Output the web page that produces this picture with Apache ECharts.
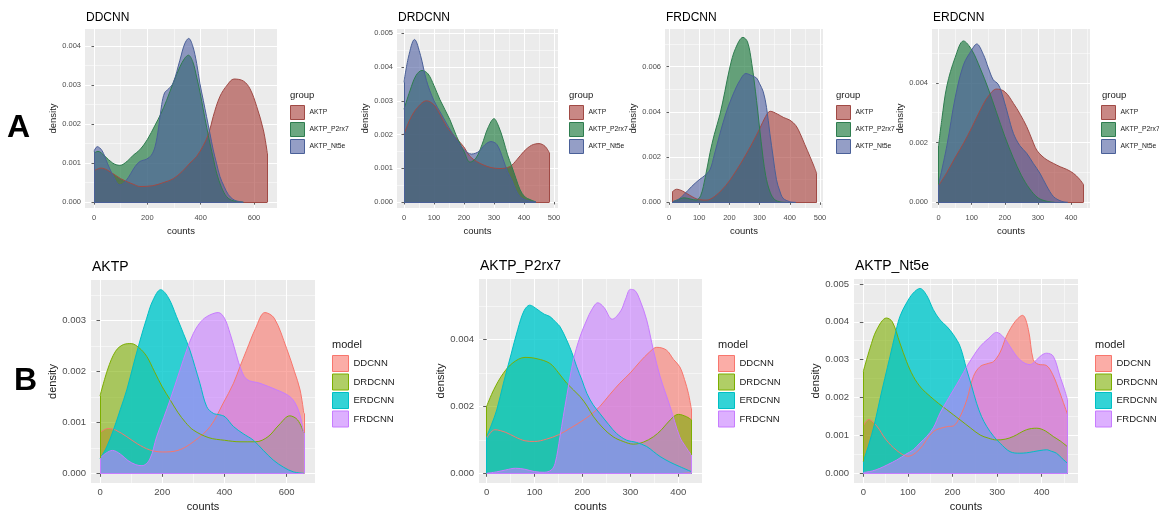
<!DOCTYPE html>
<html><head><meta charset="utf-8">
<script src="https://cdn.jsdelivr.net/npm/echarts@6.0.0/dist/echarts.min.js"></script>
<style>html,body{margin:0;padding:0;background:#fff}#c{width:1159px;height:513px}</style>
</head><body><div id="c"></div>
<script>
// ---------- DATA: [counts, density] ----------
// Row A, panel DDCNN
const DDCNN_AKTP = [[0,0.00080],[25,0.00087],[50,0.00082],[100,0.00060],[150,0.00045],[172,0.00040],[220,0.00042],[260,0.00050],[297,0.00060],[330,0.00078],[360,0.00100],[385,0.00117],[410,0.00145],[430,0.00175],[447,0.00219],[472,0.00270],[500,0.00300],[525,0.00315],[560,0.00310],[585,0.00290],[610,0.00245],[635,0.00185],[650,0.00125]];
const DDCNN_P2rx7 = [[0,0.00125],[15,0.00130],[40,0.00118],[70,0.00100],[97,0.00094],[125,0.00105],[147,0.00120],[172,0.00134],[200,0.00160],[229,0.00197],[250,0.00225],[272,0.00260],[297,0.00305],[322,0.00346],[340,0.00368],[354,0.00376],[370,0.00360],[385,0.00320],[398,0.00280],[410,0.00236],[423,0.00190],[435,0.00150],[448,0.00110],[460,0.00074],[478,0.00038],[497,0.00014],[515,0.00005],[535,0.00002],[560,0.00000]];
const DDCNN_Nt5e = [[0,0.00130],[12,0.00142],[30,0.00132],[50,0.00100],[70,0.00070],[97,0.00044],[120,0.00055],[154,0.00091],[172,0.00104],[197,0.00110],[215,0.00120],[229,0.00142],[242,0.00190],[254,0.00250],[265,0.00280],[280,0.00290],[297,0.00305],[322,0.00363],[340,0.00405],[355,0.00419],[370,0.00400],[385,0.00355],[397,0.00304],[410,0.00260],[422,0.00219],[435,0.00175],[447,0.00134],[460,0.00098],[472,0.00066],[488,0.00040],[504,0.00019],[520,0.00008],[535,0.00003],[560,0.00000]];
// Row A, panel DRDCNN
const DRDCNN_AKTP = [[0,0.00200],[20,0.00245],[45,0.00280],[75,0.00300],[100,0.00288],[120,0.00260],[142,0.00224],[170,0.00193],[198,0.00165],[220,0.00135],[242,0.00120],[264,0.00110],[290,0.00102],[320,0.00099],[353,0.00105],[376,0.00125],[400,0.00150],[425,0.00168],[450,0.00173],[470,0.00165],[485,0.00145]];
const DRDCNN_P2rx7 = [[0,0.00275],[20,0.00330],[40,0.00375],[60,0.00390],[80,0.00380],[100,0.00345],[120,0.00303],[153,0.00244],[175,0.00195],[200,0.00150],[220,0.00118],[240,0.00130],[260,0.00170],[280,0.00220],[300,0.00247],[315,0.00225],[331,0.00184],[345,0.00140],[359,0.00106],[373,0.00070],[387,0.00036],[403,0.00015],[420,0.00007],[440,0.00000]];
const DRDCNN_Nt5e = [[0,0.00355],[15,0.00430],[35,0.00482],[55,0.00435],[75,0.00360],[100,0.00300],[125,0.00260],[150,0.00220],[175,0.00185],[200,0.00155],[225,0.00142],[250,0.00150],[270,0.00170],[290,0.00179],[310,0.00170],[331,0.00125],[345,0.00090],[359,0.00066],[373,0.00035],[390,0.00013],[420,0.00002],[440,0.00000]];
// Row A, panel FRDCNN
const FRDCNN_AKTP = [[10,0.00045],[25,0.00058],[45,0.00050],[70,0.00030],[100,0.00012],[125,0.00010],[150,0.00025],[175,0.00055],[200,0.00095],[225,0.00145],[250,0.00200],[275,0.00260],[300,0.00325],[320,0.00380],[335,0.00403],[360,0.00390],[380,0.00375],[400,0.00364],[420,0.00340],[434,0.00305],[450,0.00255],[467,0.00202],[480,0.00160],[489,0.00128]];
const FRDCNN_P2rx7 = [[10,0.00002],[30,0.00012],[50,0.00020],[70,0.00015],[90,0.00010],[105,0.00030],[120,0.00110],[136,0.00220],[150,0.00300],[169,0.00390],[185,0.00490],[202,0.00600],[220,0.00680],[245,0.00730],[260,0.00710],[274,0.00615],[290,0.00450],[305,0.00270],[320,0.00120],[335,0.00045],[350,0.00012],[370,0.00002],[390,0.00000]];
const FRDCNN_Nt5e = [[10,0.00002],[30,0.00012],[50,0.00035],[75,0.00070],[100,0.00100],[120,0.00120],[136,0.00145],[150,0.00210],[169,0.00305],[190,0.00400],[213,0.00480],[235,0.00540],[255,0.00570],[275,0.00560],[290,0.00550],[300,0.00525],[312,0.00490],[323,0.00420],[334,0.00305],[345,0.00200],[356,0.00100],[367,0.00050],[378,0.00018],[400,0.00003],[420,0.00000]];
// Row A, panel ERDCNN
const ERDCNN_AKTP = [[0,0.00056],[25,0.00100],[50,0.00150],[75,0.00197],[100,0.00250],[126,0.00309],[150,0.00355],[175,0.00379],[200,0.00370],[226,0.00331],[246,0.00295],[266,0.00253],[282,0.00210],[296,0.00175],[312,0.00155],[327,0.00142],[347,0.00130],[367,0.00119],[387,0.00110],[407,0.00097],[425,0.00078],[437,0.00060]];
const ERDCNN_P2rx7 = [[0,0.00190],[10,0.00280],[25,0.00390],[50,0.00485],[75,0.00540],[100,0.00510],[125,0.00450],[150,0.00380],[175,0.00300],[200,0.00220],[225,0.00150],[250,0.00090],[275,0.00045],[300,0.00015],[325,0.00004],[350,0.00000]];
const ERDCNN_Nt5e = [[0,0.00060],[25,0.00190],[50,0.00350],[75,0.00460],[100,0.00510],[115,0.00530],[135,0.00495],[150,0.00450],[165,0.00410],[180,0.00395],[195,0.00350],[210,0.00290],[226,0.00230],[245,0.00190],[266,0.00164],[286,0.00130],[306,0.00097],[326,0.00055],[347,0.00019],[370,0.00004],[390,0.00000]];
// Row B, panel AKTP
const AKTP_DDCNN = [[0,0.00080],[25,0.00088],[50,0.00085],[86,0.00072],[120,0.00058],[160,0.00046],[200,0.00042],[250,0.00045],[300,0.00062],[354,0.00092],[396,0.00138],[429,0.00177],[450,0.00210],[471,0.00242],[500,0.00285],[530,0.00316],[560,0.00305],[600,0.00245],[625,0.00200],[643,0.00164],[655,0.00118]];
const AKTP_DRDCNN = [[0,0.00152],[25,0.00205],[50,0.00240],[75,0.00253],[100,0.00255],[125,0.00247],[150,0.00230],[175,0.00200],[200,0.00170],[225,0.00145],[250,0.00120],[275,0.00100],[300,0.00085],[350,0.00070],[400,0.00065],[450,0.00062],[500,0.00062],[540,0.00072],[575,0.00095],[610,0.00113],[635,0.00105],[655,0.00080]];
const AKTP_ERDCNN = [[0,0.00029],[20,0.00050],[43,0.00085],[65,0.00125],[86,0.00164],[108,0.00215],[129,0.00262],[150,0.00305],[170,0.00340],[195,0.00361],[220,0.00345],[246,0.00308],[268,0.00275],[289,0.00242],[305,0.00210],[321,0.00177],[343,0.00131],[364,0.00118],[385,0.00115],[402,0.00111],[429,0.00092],[460,0.00078],[493,0.00065],[525,0.00045],[557,0.00026],[590,0.00012],[621,0.00003],[655,0.00000]];
const AKTP_FRDCNN = [[0,0.00030],[20,0.00040],[40,0.00045],[65,0.00038],[90,0.00025],[115,0.00017],[135,0.00015],[160,0.00028],[182,0.00072],[205,0.00110],[225,0.00144],[257,0.00203],[280,0.00245],[300,0.00275],[320,0.00295],[343,0.00308],[380,0.00316],[400,0.00305],[418,0.00275],[435,0.00240],[450,0.00210],[471,0.00185],[514,0.00177],[568,0.00164],[600,0.00155],[621,0.00144],[640,0.00120],[655,0.00080]];
// Row B, panel AKTP_P2rx7
const P2rx7_DDCNN = [[0,0.00105],[17,0.00130],[40,0.00122],[60,0.00108],[80,0.00097],[100,0.00095],[125,0.00102],[150,0.00115],[175,0.00135],[202,0.00159],[220,0.00178],[236,0.00199],[257,0.00235],[278,0.00269],[300,0.00300],[320,0.00333],[340,0.00362],[355,0.00376],[375,0.00368],[390,0.00340],[403,0.00318],[413,0.00280],[421,0.00239],[427,0.00194]];
const P2rx7_DRDCNN = [[0,0.00200],[15,0.00250],[35,0.00299],[55,0.00330],[80,0.00346],[105,0.00342],[132,0.00328],[150,0.00300],[167,0.00269],[195,0.00229],[210,0.00200],[223,0.00169],[243,0.00135],[264,0.00109],[285,0.00095],[306,0.00087],[327,0.00093],[348,0.00109],[365,0.00130],[383,0.00159],[400,0.00176],[417,0.00169],[427,0.00160]];
const P2rx7_ERDCNN = [[0,0.00110],[10,0.00145],[21,0.00189],[35,0.00269],[50,0.00350],[65,0.00430],[78,0.00485],[90,0.00502],[105,0.00490],[120,0.00475],[132,0.00468],[145,0.00450],[153,0.00438],[167,0.00398],[178,0.00360],[188,0.00318],[199,0.00278],[209,0.00239],[222,0.00205],[236,0.00179],[255,0.00145],[271,0.00119],[292,0.00099],[313,0.00092],[334,0.00080],[348,0.00065],[362,0.00050],[383,0.00033],[403,0.00020],[427,0.00005]];
const P2rx7_FRDCNN = [[0,0.00000],[20,0.00004],[40,0.00010],[60,0.00015],[80,0.00012],[100,0.00005],[120,0.00003],[135,0.00010],[143,0.00030],[153,0.00109],[160,0.00170],[167,0.00229],[181,0.00338],[195,0.00408],[209,0.00458],[220,0.00490],[232,0.00509],[245,0.00495],[262,0.00460],[280,0.00485],[290,0.00520],[300,0.00549],[310,0.00545],[320,0.00517],[334,0.00458],[348,0.00368],[362,0.00289],[383,0.00199],[403,0.00109],[415,0.00080],[427,0.00055]];
// Row B, panel AKTP_Nt5e
const Nt5e_DDCNN = [[0,0.00125],[12,0.00142],[30,0.00125],[50,0.00090],[75,0.00060],[100,0.00045],[125,0.00062],[157,0.00110],[187,0.00123],[202,0.00125],[217,0.00150],[232,0.00194],[247,0.00256],[262,0.00282],[280,0.00290],[292,0.00295],[307,0.00320],[321,0.00362],[340,0.00400],[357,0.00417],[370,0.00380],[381,0.00300],[392,0.00288],[410,0.00285],[425,0.00260],[440,0.00215],[458,0.00155]];
const Nt5e_DRDCNN = [[0,0.00269],[15,0.00330],[30,0.00379],[52,0.00410],[65,0.00400],[82,0.00344],[97,0.00295],[112,0.00256],[130,0.00225],[150,0.00203],[168,0.00185],[187,0.00168],[217,0.00141],[240,0.00120],[262,0.00101],[280,0.00093],[299,0.00088],[318,0.00090],[336,0.00097],[366,0.00115],[389,0.00119],[408,0.00112],[426,0.00097],[442,0.00085],[458,0.00070]];
const Nt5e_ERDCNN = [[0,0.00031],[12,0.00075],[25,0.00130],[37,0.00194],[48,0.00250],[60,0.00309],[71,0.00365],[82,0.00414],[97,0.00450],[112,0.00476],[127,0.00488],[142,0.00470],[157,0.00432],[172,0.00405],[187,0.00388],[202,0.00366],[217,0.00335],[232,0.00273],[243,0.00230],[254,0.00185],[265,0.00150],[277,0.00123],[292,0.00098],[307,0.00079],[329,0.00057],[351,0.00053],[366,0.00054],[381,0.00057],[396,0.00060],[411,0.00062],[422,0.00058],[433,0.00053],[445,0.00040],[458,0.00026]];
const Nt5e_FRDCNN = [[0,0.00002],[20,0.00006],[37,0.00013],[55,0.00023],[75,0.00035],[95,0.00050],[112,0.00062],[127,0.00080],[142,0.00097],[157,0.00120],[172,0.00159],[187,0.00190],[202,0.00220],[217,0.00250],[232,0.00282],[247,0.00310],[262,0.00335],[280,0.00355],[299,0.00372],[314,0.00360],[329,0.00335],[340,0.00315],[351,0.00300],[363,0.00290],[374,0.00287],[389,0.00300],[400,0.00312],[411,0.00317],[426,0.00309],[441,0.00256],[450,0.00225],[458,0.00194]];

// ---------- TICKS ----------
const X_0_600 = [0,200,400,600], X_0_600_MINOR = [100,300,500];
const X_0_500 = [0,100,200,300,400,500], X_0_500_MINOR = [50,150,250,350,450];
const X_0_400 = [0,100,200,300,400], X_0_400_MINOR = [50,150,250,350,450];
const Y_0_004 = [0,0.001,0.002,0.003,0.004], Y_0_004_MINOR = [0.0005,0.0015,0.0025,0.0035];
const Y_0_005 = [0,0.001,0.002,0.003,0.004,0.005], Y_0_005_MINOR = [0.0005,0.0015,0.0025,0.0035,0.0045];
const Y_0_006 = [0,0.002,0.004,0.006], Y_0_006_MINOR = [0.001,0.003,0.005,0.007];
const Y_0_004b = [0,0.002,0.004], Y_0_004b_MINOR = [0.001,0.003,0.005];
const Y_0_003 = [0,0.001,0.002,0.003], Y_0_003_MINOR = [0.0005,0.0015,0.0025,0.0035];

const GROUPS = ['AKTP','AKTP_P2rx7','AKTP_Nt5e'];
const MODELS = ['DDCNN','DRDCNN','ERDCNN','FRDCNN'];

// ---------- STYLE ----------
const FONT = "'Liberation Sans', Arial, Helvetica, sans-serif";
const GROUP_COL = {
  'AKTP':       {fill:'rgba(165,57,52,0.6)',  line:'#A04A45'},
  'AKTP_P2rx7': {fill:'rgba(10,110,45,0.6)',  line:'#2E7D4F'},
  'AKTP_Nt5e':  {fill:'rgba(77,93,160,0.6)',  line:'#4A6098'}
};
const MODEL_COL = {
  'DDCNN':  {fill:'rgba(248,118,109,0.6)', line:'#F8766D'},
  'DRDCNN': {fill:'rgba(124,174,0,0.6)',   line:'#7CAE00'},
  'ERDCNN': {fill:'rgba(0,200,204,0.8)',   line:'#00BFC4'},
  'FRDCNN': {fill:'rgba(199,124,255,0.6)', line:'#C77CFF'}
};
const ROW = {
  top: {tick:7.5, axisName:9.5, title:12, legTitle:9.5, leg:6.8, key:14, keyGap:2, tickLen:2.5, xMargin:6, yMargin:4, xGap:18, titleOff:17, legTitleKey:'group', cols:GROUP_COL},
  bot: {tick:9.5, axisName:11, title:14, legTitle:11, leg:9.5, key:16, keyGap:1.5, tickLen:3.5, xMargin:4, yMargin:5, xGap:18, titleOff:20, legTitleKey:'model', cols:MODEL_COL}
};

const panels = [
  {row:'top', title:'DDCNN',  box:[85,29,192,179],  x:[-33.75,686.25], y:[-0.00015,0.00443], xt:X_0_600, xm:X_0_600_MINOR, yt:Y_0_004,  ym:Y_0_004_MINOR, yGap:20,
   series:[['AKTP',DDCNN_AKTP],['AKTP_P2rx7',DDCNN_P2rx7],['AKTP_Nt5e',DDCNN_Nt5e]], leg:[290,105], legT:[290,90]},
  {row:'top', title:'DRDCNN', box:[397,29,161,179], x:[-23.3,513.3],  y:[-0.00018,0.00513], xt:X_0_500, xm:X_0_500_MINOR, yt:Y_0_005,  ym:Y_0_005_MINOR, yGap:16,
   series:[['AKTP',DRDCNN_AKTP],['AKTP_P2rx7',DRDCNN_P2rx7],['AKTP_Nt5e',DRDCNN_Nt5e]], leg:[569,105], legT:[569,90]},
  {row:'top', title:'FRDCNN', box:[665,29,158,179], x:[-13.2,510],    y:[-0.00025,0.00767], xt:X_0_500, xm:X_0_500_MINOR, yt:Y_0_006,  ym:Y_0_006_MINOR, yGap:17,
   series:[['AKTP',FRDCNN_AKTP],['AKTP_P2rx7',FRDCNN_P2rx7],['AKTP_Nt5e',FRDCNN_Nt5e]], leg:[836,105], legT:[836,90]},
  {row:'top', title:'ERDCNN', box:[932,29,158,179], x:[-20,457],      y:[-0.00019,0.0058],  xt:X_0_400, xm:X_0_400_MINOR, yt:Y_0_004b, ym:Y_0_004b_MINOR, yGap:17,
   series:[['AKTP',ERDCNN_AKTP],['AKTP_P2rx7',ERDCNN_P2rx7],['AKTP_Nt5e',ERDCNN_Nt5e]], leg:[1101,105], legT:[1102,90]},
  {row:'bot', title:'AKTP',       box:[91,280,224,203],  x:[-29,691],     y:[-0.00019,0.0038],  xt:X_0_600, xm:X_0_600_MINOR, yt:Y_0_003,  ym:Y_0_003_MINOR, yGap:28,
   series:[['DDCNN',AKTP_DDCNN],['DRDCNN',AKTP_DRDCNN],['ERDCNN',AKTP_ERDCNN],['FRDCNN',AKTP_FRDCNN]], leg:[332,355], legT:[332,339]},
  {row:'bot', title:'AKTP_P2rx7', box:[479,279,223,204], x:[-16,449.5],   y:[-0.00029,0.0058],  xt:X_0_400, xm:X_0_400_MINOR.slice(0,4), yt:Y_0_004b, ym:Y_0_004b_MINOR, yGap:28,
   series:[['DDCNN',P2rx7_DDCNN],['DRDCNN',P2rx7_DRDCNN],['ERDCNN',P2rx7_ERDCNN],['FRDCNN',P2rx7_FRDCNN]], leg:[718,355], legT:[718,339]},
  {row:'bot', title:'AKTP_Nt5e',  box:[854,279,224,204], x:[-20.9,481.4], y:[-0.000257,0.00513], xt:X_0_400, xm:X_0_400_MINOR, yt:Y_0_005,  ym:Y_0_005_MINOR, yGap:27,
   series:[['DDCNN',Nt5e_DDCNN],['DRDCNN',Nt5e_DRDCNN],['ERDCNN',Nt5e_ERDCNN],['FRDCNN',Nt5e_FRDCNN]], leg:[1095,355], legT:[1095,339]}
];

const option = {backgroundColor:'#ffffff', animation:false, grid:[], xAxis:[], yAxis:[], series:[], legend:[], title:[]};

panels.forEach((p, i) => {
  const R = ROW[p.row];
  option.grid.push({left:p.box[0], top:p.box[1], width:p.box[2], height:p.box[3], show:true, backgroundColor:'#EBEBEB', borderWidth:0});
  const tickStyle = {color:'#333333', width:0.8};
  option.xAxis.push({type:'value', gridIndex:i, min:p.x[0], max:p.x[1], position:'bottom',
    axisLine:{show:false},
    axisTick:{show:true, customValues:p.xt, length:R.tickLen, lineStyle:tickStyle},
    axisLabel:{customValues:p.xt, color:'#4D4D4D', fontSize:R.tick, fontFamily:FONT, margin:R.xMargin},
    splitLine:{show:true, lineStyle:{color:'#FFFFFF', width:1.1}},
    name:'counts', nameLocation:'middle', nameGap:R.xGap,
    nameTextStyle:{color:'#1A1A1A', fontSize:R.axisName, fontFamily:FONT}});
  option.xAxis.push({type:'value', gridIndex:i, min:p.x[0], max:p.x[1], position:'bottom',
    axisLine:{show:false}, axisTick:{show:false, customValues:p.xm}, axisLabel:{show:false},
    splitLine:{show:true, lineStyle:{color:'#FFFFFF', width:0.5}}});
  option.yAxis.push({type:'value', gridIndex:i, min:p.y[0], max:p.y[1], position:'left',
    axisLine:{show:false},
    axisTick:{show:true, customValues:p.yt, length:R.tickLen, lineStyle:tickStyle},
    axisLabel:{customValues:p.yt, color:'#4D4D4D', fontSize:R.tick, fontFamily:FONT, margin:R.yMargin, formatter:v => v.toFixed(3)},
    splitLine:{show:true, lineStyle:{color:'#FFFFFF', width:1.1}},
    name:'density', nameLocation:'middle', nameGap:p.yGap,
    nameTextStyle:{color:'#1A1A1A', fontSize:R.axisName, fontFamily:FONT}});
  option.yAxis.push({type:'value', gridIndex:i, min:p.y[0], max:p.y[1], position:'left',
    axisLine:{show:false}, axisTick:{show:false, customValues:p.ym}, axisLabel:{show:false},
    splitLine:{show:true, lineStyle:{color:'#FFFFFF', width:0.5}}});

  p.series.forEach(([name, data]) => {
    const c = R.cols[name];
    const first = data[0], last = data[data.length - 1];
    option.series.push({type:'line', name, xAxisIndex:2*i, yAxisIndex:2*i, data,
      smooth:0.35, showSymbol:false, symbol:'none', silent:true,
      lineStyle:{color:c.line, width:1}, itemStyle:{color:c.line},
      areaStyle:{color:c.fill, opacity:1},
      markLine:{silent:true, symbol:['none','none'], label:{show:false}, animation:false,
        lineStyle:{color:c.line, width:1, type:'solid'}, emphasis:{disabled:true},
        data:[
          [{coord:[first[0],0]},{coord:[first[0],first[1]]}],
          [{coord:[last[0],0]},{coord:[last[0],last[1]]}],
          [{coord:[first[0],0]},{coord:[last[0],0]}]
        ]}
    });
  });

  const names = p.series.map(s => s[0]);
  option.legend.push({left:p.leg[0], top:p.leg[1], padding:0, orient:'vertical', icon:'rect', selectedMode:false,
    itemWidth:R.key, itemHeight:R.key, itemGap:R.keyGap,
    textStyle:{fontSize:R.leg, color:'#1A1A1A', fontFamily:FONT},
    data:names.map(n => ({name:n, itemStyle:{color:R.cols[n].fill, borderColor:R.cols[n].line, borderWidth:1}}))});

  option.title.push({text:p.title, left:p.box[0] + 1, top:p.box[1] - R.titleOff, padding:0,
    textStyle:{fontSize:R.title, fontWeight:'normal', color:'#000', fontFamily:FONT}});
  option.title.push({text:R.legTitleKey, left:p.legT[0], top:p.legT[1], padding:0,
    textStyle:{fontSize:R.legTitle, fontWeight:'normal', color:'#1A1A1A', fontFamily:FONT}});
});

option.title.push({text:'A', left:7, top:112, padding:0, textStyle:{fontSize:32, fontWeight:'bold', color:'#000', fontFamily:FONT}});
option.title.push({text:'B', left:14, top:365, padding:0, textStyle:{fontSize:32, fontWeight:'bold', color:'#000', fontFamily:FONT}});

const chart = echarts.init(document.getElementById('c'), null, {renderer:'canvas'});
chart.setOption(option);
</script></body></html>
